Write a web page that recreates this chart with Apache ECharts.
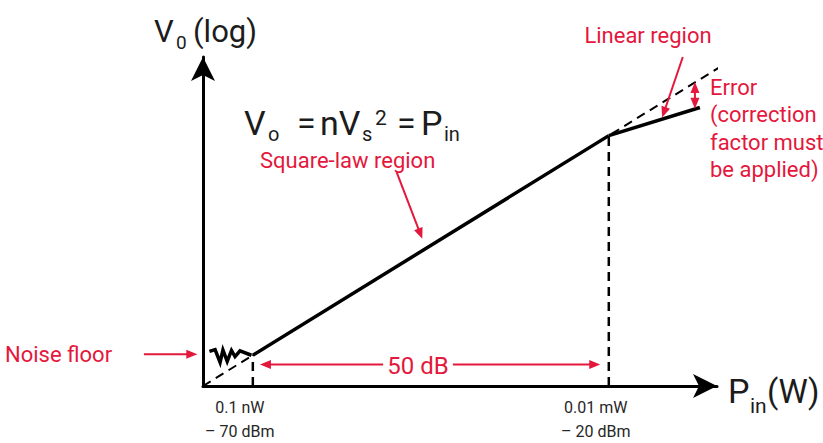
<!DOCTYPE html>
<html>
<head>
<meta charset="utf-8">
<script src="https://cdn.jsdelivr.net/npm/echarts@6/dist/echarts.min.js"></script>
<style>
    html, body { margin: 0; padding: 0; background: #ffffff; }
    #chart { width: 823px; height: 443px; }
</style>
</head>
<body>
<div id="chart"></div>
<script>
// x: input power (dBm), y: detector output (log, same dB units)
var tickValues = [-70, -20];
var tickLabels = ['0.1 nW\n\u2013 70 dBm', '0.01 mW\n\u2013 20 dBm'];

// ideal square-law extension (dashed)
var idealX = [-77, 3.4];
var idealY = [-77, 3.4];

// noise floor squiggle
var noiseX = [-76.1, -75.3, -74.6, -74.2, -73.6, -73.0, -72.5, -71.8, -70.2];
var noiseY = [-69.1, -68.7, -71.6, -68.8, -71.4, -68.9, -70.3, -69.0, -70.0];

// square-law region
var squareX = [-70, -20];
var squareY = [-70, -20];

// linear region
var linearX = [-20, -7.2];
var linearY = [-20, -13.6];

// region borders (dashed verticals)
var borderX = [-70, -20];
var borderTop = [-70, -20];

// annotation arrows: x1, y1, x2 (head), y2 (head), double head
var arrowX1 = [-85.3, -51.7, -41.9, -9.6, -49.8, -7.9];
var arrowY1 = [-69.8, -72.1, -72.1, -2.1, -28.3, -13.9];
var arrowX2 = [-77.8, -69.0, -21.2, -12.5, -46.2, -7.9];
var arrowY2 = [-69.8, -72.1, -72.1, -15.9, -43.5, -7.8];
var arrowBoth = [0, 0, 0, 0, 0, 1];

var RED = '#e4173d';
var INK = '#1c1c1c';
var FONT = 'Roboto, "Liberation Sans", sans-serif';

function pairs(xs, ys) {
    var out = [];
    for (var i = 0; i < xs.length; i++) {
        out.push([xs[i], ys[i]]);
    }
    return out;
}

var arrowData = [];
for (var i = 0; i < arrowX1.length; i++) {
    arrowData.push([arrowX1[i], arrowY1[i], arrowX2[i], arrowY2[i], arrowBoth[i]]);
}

function arrowHead(tip, from) {
    var ang = Math.atan2(tip[1] - from[1], tip[0] - from[0]);
    var len = 11, half = 4.5;
    var bx = tip[0] - len * Math.cos(ang);
    var by = tip[1] - len * Math.sin(ang);
    var px = -Math.sin(ang) * half;
    var py = Math.cos(ang) * half;
    return {
        type: 'polygon',
        shape: { points: [[tip[0], tip[1]], [bx + px, by + py], [bx - px, by - py]] },
        style: { fill: RED }
    };
}

function trim(p, q, d) {
    var l = Math.sqrt((q[0] - p[0]) * (q[0] - p[0]) + (q[1] - p[1]) * (q[1] - p[1]));
    return [p[0] + (q[0] - p[0]) * d / l, p[1] + (q[1] - p[1]) * d / l];
}

function renderArrow(params, api) {
    var p1 = api.coord([api.value(0), api.value(1)]);
    var p2 = api.coord([api.value(2), api.value(3)]);
    var both = api.value(4) === 1;
    var e2 = trim(p2, p1, 8);
    var e1 = both ? trim(p1, p2, 8) : p1;
    var children = [{
        type: 'line',
        shape: { x1: e1[0], y1: e1[1], x2: e2[0], y2: e2[1] },
        style: { stroke: RED, lineWidth: 2 }
    }];
    children.push(arrowHead(p2, p1));
    if (both) {
        children.push(arrowHead(p1, p2));
    }
    return { type: 'group', children: children };
}

function txt(x, y, text, size, color, align) {
    return {
        type: 'text',
        x: x,
        y: y,
        silent: true,
        style: {
            text: text,
            fontSize: size,
            fontFamily: FONT,
            fill: color,
            align: align || 'left',
            verticalAlign: 'middle'
        }
    };
}

var chart = echarts.init(document.getElementById('chart'), null, { renderer: 'svg' });

var option = {
    animation: false,
    backgroundColor: '#ffffff',
    grid: { left: 203, right: 106, top: 57, bottom: 55, containLabel: false },
    xAxis: {
        type: 'value',
        min: -77,
        max: -4.8,
        splitLine: { show: false },
        axisTick: { show: false },
        axisLine: {
            onZero: false,
            symbol: ['none', 'arrow'],
            symbolSize: [18, 24],
            lineStyle: { color: '#000', width: 3 }
        },
        axisLabel: {
            customValues: tickValues,
            formatter: function (v) {
                var k = tickValues.indexOf(v);
                return k >= 0 ? tickLabels[k] : '';
            },
            margin: 9,
            padding: [0, 26, 0, 0],
            fontSize: 16,
            lineHeight: 24,
            fontFamily: FONT,
            color: '#262626'
        }
    },
    yAxis: {
        type: 'value',
        min: -77,
        max: -2.1,
        splitLine: { show: false },
        axisTick: { show: false },
        axisLabel: { show: false },
        axisLine: {
            onZero: false,
            symbol: ['none', 'arrow'],
            symbolSize: [18, 24],
            lineStyle: { color: '#000', width: 3 }
        }
    },
    series: [
        {
            name: 'ideal',
            type: 'line',
            data: pairs(idealX, idealY),
            symbol: 'none',
            clip: false,
            lineStyle: { color: '#000', width: 2, type: [9, 6] }
        },
        {
            name: 'border -70',
            type: 'line',
            data: [[borderX[0], -77], [borderX[0], borderTop[0]]],
            symbol: 'none',
            lineStyle: { color: '#000', width: 2.5, type: [9, 6] }
        },
        {
            name: 'border -20',
            type: 'line',
            data: [[borderX[1], -77], [borderX[1], borderTop[1]]],
            symbol: 'none',
            lineStyle: { color: '#000', width: 2.5, type: [9, 6] }
        },
        {
            name: 'noise',
            type: 'line',
            data: pairs(noiseX, noiseY),
            symbol: 'none',
            lineStyle: { color: '#000', width: 3.5, join: 'miter' }
        },
        {
            name: 'square-law',
            type: 'line',
            data: pairs(squareX, squareY),
            symbol: 'none',
            lineStyle: { color: '#000', width: 3.5 }
        },
        {
            name: 'linear',
            type: 'line',
            data: pairs(linearX, linearY),
            symbol: 'none',
            clip: false,
            lineStyle: { color: '#000', width: 3.5 }
        },
        {
            name: 'arrows',
            type: 'custom',
            renderItem: renderArrow,
            data: arrowData,
            clip: false,
            silent: true,
            z: 5
        }
    ],
    graphic: [
        // axis titles
        txt(154, 31, 'V', 31, INK),
        txt(176, 42, '0', 19, INK),
        txt(193, 31, '(log)', 31, INK),
        txt(728, 391, 'P', 34, INK),
        txt(750, 406, 'in', 21, INK),
        txt(767, 391, '(W)', 33, INK),
        // formula
        txt(244, 123, 'V', 34, INK),
        txt(268, 134, 'o', 20, INK),
        txt(297, 123, '=', 34, INK),
        txt(320, 123, 'nV', 34, INK),
        txt(362, 134, 's', 20, INK),
        txt(375, 118, '2', 21, INK),
        txt(397, 123, '=', 34, INK),
        txt(421, 123, 'P', 34, INK),
        txt(444, 134, 'in', 20, INK),
        // red annotations
        txt(260, 160, 'Square-law region', 22, RED),
        txt(648, 35, 'Linear region', 22, RED, 'center'),
        txt(710, 87, 'Error', 22, RED),
        txt(710, 114, '(correction', 22, RED),
        txt(710, 142, 'factor must', 22, RED),
        txt(710, 169, 'be applied)', 22, RED),
        txt(5, 354, 'Noise floor', 22, RED),
        txt(418, 366, '50 dB', 24, RED, 'center')
    ]
};

chart.setOption(option);
</script>
</body>
</html>
